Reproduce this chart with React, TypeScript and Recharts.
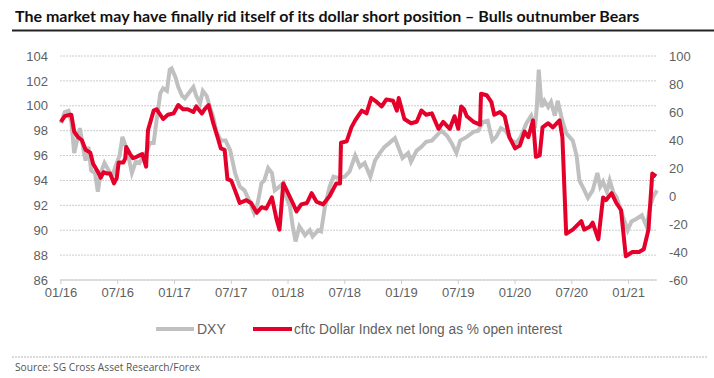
import React from 'react';
import { LineChart, Line, XAxis, YAxis, CartesianGrid } from 'recharts';

// months since Jan 2016
const xTicks = [0, 6, 12, 18, 24, 30, 36, 42, 48, 54, 60];
const xTickLabels = ['01/16', '07/16', '01/17', '07/17', '01/18', '07/18', '01/19', '07/19', '01/20', '07/20', '01/21'];
const leftTicks = [86, 88, 90, 92, 94, 96, 98, 100, 102, 104];
const rightTicks = [-60, -40, -20, 0, 20, 40, 60, 80, 100];

const dxyMonths = [
  0, 0.4, 0.8, 1.1, 1.4, 1.7, 2.0, 2.4, 2.6, 2.9, 3.2, 3.6, 3.9, 4.2, 4.6, 4.9, 5.4, 5.9, 6.2, 6.5,
  7.0, 7.5, 7.9, 8.3, 8.6, 9.0, 9.4, 9.8, 10.1, 10.5, 10.8, 11.2, 11.5, 11.7, 12.1, 12.4, 12.8, 13.1, 13.5, 14.0,
  14.3, 14.7, 15.0, 15.4, 15.7, 16.1, 16.4, 16.9, 17.4, 17.9, 18.4, 18.9, 19.4, 19.9, 20.4, 20.8, 21.2, 21.5, 21.9, 22.3,
  22.6, 23.1, 23.5, 23.8, 24.2, 24.5, 24.8, 25.2, 25.8, 26.3, 26.6, 27.2, 27.5, 27.9, 28.4, 28.8, 29.3, 30.0, 30.5, 31.1,
  31.6, 32.1, 32.7, 33.2, 33.7, 34.2, 34.7, 35.3, 35.6, 36.1, 36.7, 37.0, 37.6, 38.1, 38.6, 39.2, 39.7, 40.2, 40.8, 41.3,
  41.8, 42.2, 42.9, 43.6, 44.1, 44.6, 45.1, 45.6, 46.0, 46.5, 47.0, 47.6, 48.1, 48.6, 49.2, 49.7, 50.1, 50.3, 50.5, 50.8,
  51.1, 51.5, 51.8, 52.2, 52.5, 52.9, 53.4, 54.1, 54.5, 54.8, 55.2, 55.7, 56.2, 56.7, 57.0, 57.3, 57.7, 58.0, 58.4, 58.7,
  59.4, 59.9, 60.3, 60.8, 61.4, 61.9, 62.3, 62.6, 63.0,
];
const dxyValues = [
  98.6, 99.5, 99.6, 98.7, 96.2, 97.2, 98.2, 96.4, 95.6, 96.7, 94.8, 94.6, 93.1, 94.6, 95.4, 95.0, 94.3, 95.4, 96.0, 97.5,
  96.4, 94.6, 95.5, 95.4, 95.8, 96.2, 97.0, 97.0, 98.8, 101.0, 101.4, 101.2, 102.9, 103.0, 102.3, 101.5, 100.8, 100.6, 101.0, 101.5,
  100.8, 100.2, 101.2, 100.8, 100.0, 99.1, 98.0, 97.2, 97.2, 96.4, 94.6, 93.5, 93.2, 92.4, 91.4, 92.2, 93.8, 94.0, 95.0, 94.6,
  93.2, 93.5, 93.8, 92.7, 91.9, 90.3, 89.1, 90.3, 89.6, 90.0, 89.5, 90.0, 89.9, 91.9, 93.5, 94.3, 94.2, 94.3, 94.7, 96.0,
  95.1, 95.4, 94.3, 95.6, 96.2, 96.7, 97.0, 97.4, 96.8, 95.8, 96.2, 95.5, 96.4, 96.7, 97.1, 97.2, 97.6, 98.0, 97.6, 97.0,
  96.2, 97.2, 97.5, 97.9, 98.0, 98.7, 98.8, 97.2, 97.5, 98.2, 98.0, 97.2, 97.0, 97.5, 98.6, 99.2, 98.2, 99.9, 102.9, 99.9,
  100.4, 99.9, 100.3, 99.2, 100.4, 99.1, 97.8, 97.2, 96.0, 94.0, 93.4, 92.6, 93.2, 94.6, 93.5, 93.9, 93.1, 94.0, 93.0, 92.7,
  91.1, 90.0, 90.7, 90.9, 91.2, 90.3, 92.0, 92.7, 93.2,
];

const cftcMonths = [
  0, 0.4, 0.9, 1.1, 1.4, 1.8, 2.2, 2.6, 3.1, 3.4, 4.0, 4.2, 4.5, 4.9, 5.2, 5.6, 5.9, 6.1, 6.6, 6.8,
  6.9, 7.3, 7.6, 8.0, 8.3, 8.6, 9.0, 9.2, 9.8, 10.1, 10.8, 11.3, 11.9, 12.4, 12.9, 13.4, 14.0, 14.3, 14.9, 15.2,
  15.6, 16.1, 16.6, 16.9, 17.3, 17.6, 18.0, 18.4, 18.9, 19.6, 20.1, 20.7, 21.2, 21.7, 22.3, 22.8, 23.1, 23.5, 24.0, 24.5,
  24.9, 25.4, 26.0, 26.5, 27.0, 27.7, 28.4, 29.1, 29.5, 29.6, 30.2, 30.7, 31.1, 31.4, 31.8, 32.3, 32.8, 33.4, 33.9, 34.4,
  35.1, 35.5, 35.7, 36.3, 37.0, 37.6, 38.1, 38.6, 39.2, 39.9, 40.4, 41.1, 41.6, 42.0, 42.3, 42.6, 42.9, 43.6, 44.3, 44.4,
  45.0, 45.5, 45.8, 46.4, 46.9, 47.4, 48.0, 48.5, 49.0, 49.4, 49.9, 50.2, 50.6, 50.9, 51.5, 52.0, 52.7, 53.0, 53.4, 54.1,
  55.0, 55.3, 55.9, 56.2, 56.8, 57.3, 57.6, 58.2, 58.7, 59.2, 59.7, 60.4, 61.1, 61.6, 62.1, 62.5, 62.9,
];
const cftcValues = [
  53, 57, 58, 58, 46, 42, 40, 33, 31, 23, 16, 13, 17, 16, 16, 9, 13, 24, 24, 27,
  35, 30, 27, 28, 29, 30, 21, 47, 61, 62, 55, 58, 59, 65, 62, 62, 60, 64, 59, 62,
  65, 52, 41, 34, 33, 12, 11, 4, -5, -3, -5, -12, -8, -9, -1, -17, -24, 9, 2, -5,
  -11, -6, -5, 2, -4, -6, 0, 9, 9, 38, 39, 49, 54, 57, 61, 59, 70, 67, 64, 69,
  68, 61, 70, 55, 52, 53, 61, 58, 59, 48, 53, 48, 57, 48, 64, 62, 57, 53, 51, 73,
  72, 67, 58, 60, 57, 42, 34, 36, 46, 42, 54, 28, 29, 49, 52, 49, 54, 42, -27, -24,
  -18, -24, -22, -19, -31, -1, -3, 2, -5, -10, -43, -40, -40, -38, -24, 16, 14,
];

const dxyData = dxyMonths.map((m, i) => ({ m, v: dxyValues[i] }));
const cftcData = cftcMonths.map((m, i) => ({ m, v: cftcValues[i] }));

const GREY = '#c0c0c0';
const RED = '#e4002b';
const TEXT = '#5f5f5f';
const tickStyle = { fill: TEXT, fontSize: 13, fontFamily: 'Liberation Sans, Arial, sans-serif' };

export default function App() {
  return (
    <div style={{ position: 'absolute', left: 0, top: 0, width: 714, height: 378, background: '#fff' }}>
      <LineChart width={714} height={378} margin={{ top: 56, right: 0, bottom: 68, left: 0 }}>
        <CartesianGrid yAxisId="left" vertical={false} stroke="#cccccc" strokeDasharray="2 1" />
        <XAxis
          type="number"
          dataKey="m"
          domain={[-0.1, 63]}
          ticks={xTicks}
          tickFormatter={(v) => xTickLabels[xTicks.indexOf(v)]}
          height={30}
          axisLine={{ stroke: '#cccccc' }}
          tickLine={{ stroke: '#cccccc' }}
          tickSize={4}
          tickMargin={4}
          tick={tickStyle}
          allowDuplicatedCategory={false}
        />
        <YAxis
          yAxisId="left"
          orientation="left"
          width={60}
          domain={[86, 104]}
          ticks={leftTicks}
          axisLine={false}
          tickLine={false}
          tickMargin={6}
          tick={tickStyle}
        />
        <YAxis
          yAxisId="right"
          orientation="right"
          width={57}
          domain={[-60, 100]}
          ticks={rightTicks}
          axisLine={false}
          tickLine={false}
          tickMargin={6}
          tick={tickStyle}
        />
        <Line
          yAxisId="left"
          data={dxyData}
          dataKey="v"
          name="DXY"
          stroke={GREY}
          strokeWidth={4}
          dot={false}
          isAnimationActive={false}
        />
        <Line
          yAxisId="right"
          data={cftcData}
          dataKey="v"
          name="cftc Dollar Index net long as % open interest"
          stroke={RED}
          strokeWidth={4}
          strokeLinejoin="round"
          dot={false}
          isAnimationActive={false}
        />
      </LineChart>
      <svg width={714} height={378} style={{ position: 'absolute', left: 0, top: 0, pointerEvents: 'none' }}>
        <text x={15} y={22} fontFamily="Lato, sans-serif" fontWeight="bold" fontSize={16} fill="#111">
          The market may have finally rid itself of its dollar short position – Bulls outnumber Bears
        </text>
        <line x1={12} x2={714} y1={30.5} y2={30.5} stroke="#222" strokeWidth={2} />
        <line x1={156} x2={194} y1={329} y2={329} stroke={GREY} strokeWidth={4} />
        <text x={197} y={334} fontFamily="Liberation Sans, Arial, sans-serif" fontSize={14} fill={TEXT}>DXY</text>
        <line x1={253} x2={292} y1={329} y2={329} stroke={RED} strokeWidth={4} />
        <text x={294} y={334} fontFamily="Liberation Sans, Arial, sans-serif" fontSize={14} fill={TEXT} textLength={268} lengthAdjust="spacingAndGlyphs">
          cftc Dollar Index net long as % open interest
        </text>
        <line x1={12} x2={707} y1={357} y2={357} stroke="#b5b5b5" strokeWidth={1} strokeDasharray="2 1" />
        <text x={15} y={371} fontFamily="Open Sans, sans-serif" fontSize={11} fill="#555" textLength={185} lengthAdjust="spacingAndGlyphs">
          Source: SG Cross Asset Research/Forex
        </text>
      </svg>
    </div>
  );
}
